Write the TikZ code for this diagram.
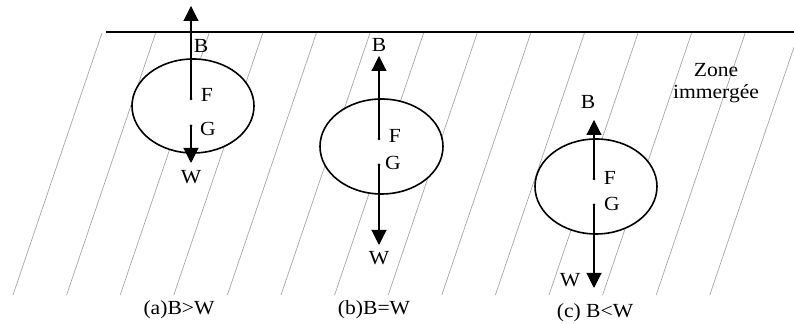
\documentclass[tikz,border=0pt]{standalone}
\usepackage{fontspec}
\setmainfont{Liberation Serif}[FakeStretch=1.08]
\usetikzlibrary{arrows.meta}

\begin{document}
\begin{tikzpicture}[x=0.5pt, y=-0.5pt,
    hatch/.style={gray!70, line width=0.35pt},
    body/.style={draw, fill=white, line width=0.8pt},
    force/.style={-{Triangle[length=7.5pt,width=7.5pt]}, line width=0.55pt},
    lbl/.style={font=\fontsize{10}{11}\selectfont, inner sep=1pt}]
	\useasboundingbox (0,0) rectangle (794,324);

	% Hachures (zone immergee)
	\begin{scope}
		\clip (0,0) rectangle (794,324);
		\foreach \k in {0,...,13}
			\draw[hatch] ({13+53.6*\k},295) -- ({102+53.6*\k},33);
	\end{scope}

	% Surface libre
	\draw[line width=0.55pt] (106,32) -- (794,32);

	% (a) B>W
	\draw[body] (193,106) ellipse [x radius=61, y radius=47];
	\coordinate (Fa) at (191,99);
	\coordinate (Ga) at (191,126);
	\coordinate (tipBa) at (191,6);
	\coordinate (tipWa) at (191,163);
	\draw[force] (Fa) -- (tipBa);
	\draw[force] (Ga) -- (tipWa);
	\fill (Fa) circle (1.5);
	\fill (Ga) circle (1.5);
	\node[lbl] (labBa) at (201,46) {B};
	\node[lbl] (labWa) at (191,177) {W};
	\node[lbl] (labFa) at (207,95) {F};
	\node[lbl] (labGa) at (208,129) {G};
	\node[lbl] (capa) at (179,310) {(a)B>W};

	% (b) B=W
	\draw[body] (381.5,146.5) ellipse [x radius=61.5, y radius=47.5];
	\coordinate (Fb) at (379,139);
	\coordinate (Gb) at (379,165);
	\coordinate (tipBb) at (379,56);
	\coordinate (tipWb) at (379,245);
	\draw[force] (Fb) -- (tipBb);
	\draw[force] (Gb) -- (tipWb);
	\fill (Fb) circle (1.5);
	\fill (Gb) circle (1.5);
	\node[lbl] (labBb) at (379,45) {B};
	\node[lbl] (labWb) at (379,258) {W};
	\node[lbl] (labFb) at (395,136) {F};
	\node[lbl] (labGb) at (393,163) {G};
	\node[lbl] (capb) at (374,310) {(b)B=W};

	% (c) B<W
	\draw[body] (596,186.5) ellipse [x radius=61, y radius=47.5];
	\coordinate (Fc) at (594,179);
	\coordinate (Gc) at (594,205);
	\coordinate (tipBc) at (594,120);
	\coordinate (tipWc) at (594,288);
	\draw[force] (Fc) -- (tipBc);
	\draw[force] (Gc) -- (tipWc);
	\fill (Fc) circle (1.5);
	\fill (Gc) circle (1.5);
	\node[lbl] (labBc) at (588,102) {B};
	\node[lbl] (labWc) at (570,280) {W};
	\node[lbl] (labFc) at (610,178) {F};
	\node[lbl] (labGc) at (612,204) {G};
	\node[lbl] (capc) at (595,313) {(c) B<W};

	% Legende
	\node[lbl, align=center] (zone) at (716,83) {Zone\\immergée};
\end{tikzpicture}
\end{document}
